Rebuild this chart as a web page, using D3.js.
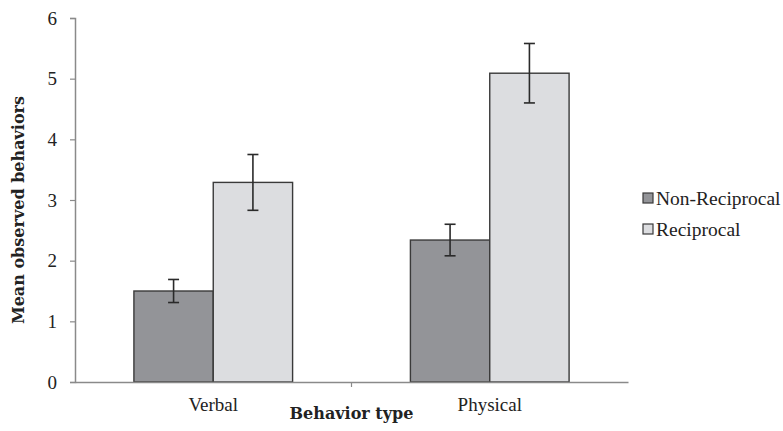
<!DOCTYPE html>
<html>
<head>
<meta charset="utf-8">
<script src="https://cdn.jsdelivr.net/npm/d3@7"></script>
<style>
  html, body { margin: 0; padding: 0; background: #fff; }
  svg { display: block; }
</style>
</head>
<body>
<svg id="chart" width="783" height="431"></svg>
<script>
// Behaviour categories and the two reciprocity conditions
const categories = ["Verbal", "Physical"];
const seriesNames = ["Non-Reciprocal", "Reciprocal"];
const nonReciprocalMeans = [1.50, 2.34];
const reciprocalMeans = [3.29, 5.09];
const nonReciprocalErr = [0.19, 0.26];
const reciprocalErr = [0.46, 0.49];
const yTicks = [0, 1, 2, 3, 4, 5, 6];

const colors = { "Non-Reciprocal": "#939498", "Reciprocal": "#dcdde0" };

const rows = [];
categories.forEach((c, i) => {
  rows.push({ cat: c, series: "Non-Reciprocal", value: nonReciprocalMeans[i], err: nonReciprocalErr[i] });
  rows.push({ cat: c, series: "Reciprocal", value: reciprocalMeans[i], err: reciprocalErr[i] });
});

const svg = d3.select("#chart");
const plot = { left: 75, right: 628, top: 18, bottom: 382 };

const x = d3.scaleBand().domain(categories).range([plot.left, plot.right]).paddingInner(0).paddingOuter(0);
const inner = d3.scaleBand().domain(seriesNames).range([0, x.bandwidth()]).paddingInner(0).paddingOuter(0.7425);
const y = d3.scaleLinear().domain([0, 6]).range([plot.bottom, plot.top]);

const serif = "'Liberation Serif', 'Times New Roman', serif";

// Bars
svg.append("g").selectAll("rect").data(rows).join("rect")
  .attr("x", d => x(d.cat) + inner(d.series))
  .attr("y", d => y(d.value))
  .attr("width", inner.bandwidth())
  .attr("height", d => y(0) - y(d.value))
  .attr("fill", d => colors[d.series])
  .attr("stroke", "#3a3a3a")
  .attr("stroke-width", 1.4);

// Error bars
const eb = svg.append("g").attr("stroke", "#2a2a2a").attr("stroke-width", 1.6);
rows.forEach(d => {
  const cx = x(d.cat) + inner(d.series) + inner.bandwidth() / 2;
  const y1 = y(d.value + d.err), y2 = y(d.value - d.err);
  eb.append("line").attr("x1", cx).attr("x2", cx).attr("y1", y1).attr("y2", y2);
  eb.append("line").attr("x1", cx - 5.5).attr("x2", cx + 5.5).attr("y1", y1).attr("y2", y1);
  eb.append("line").attr("x1", cx - 5.5).attr("x2", cx + 5.5).attr("y1", y2).attr("y2", y2);
});

// Y axis
const yAxis = svg.append("g").attr("transform", `translate(${plot.left},0)`)
  .call(d3.axisLeft(y).tickValues(yTicks).tickSize(5).tickPadding(13).tickFormat(d3.format("d")));
yAxis.select(".domain").attr("stroke", "#8a8a8a").attr("stroke-width", 1.5);
yAxis.selectAll(".tick line").attr("stroke", "#8a8a8a").attr("stroke-width", 1.2);
yAxis.selectAll(".tick text").attr("font-family", serif).attr("font-size", 19).attr("fill", "#222");

// X axis
const xAxis = svg.append("g").attr("transform", `translate(0,${plot.bottom})`)
  .call(d3.axisBottom(x).tickSize(0).tickPadding(16));
xAxis.select(".domain").attr("stroke", "#8a8a8a").attr("stroke-width", 1.5);
xAxis.selectAll(".tick text").attr("font-family", serif).attr("font-size", 19).attr("fill", "#222");
// Category separator tick
svg.append("line")
  .attr("x1", x("Physical")).attr("x2", x("Physical"))
  .attr("y1", plot.bottom).attr("y2", plot.bottom + 5)
  .attr("stroke", "#8a8a8a").attr("stroke-width", 1.2);

// Axis titles
const titleFont = "'DejaVu Serif', serif";
svg.append("text")
  .attr("x", (plot.left + plot.right) / 2).attr("y", 419)
  .attr("text-anchor", "middle")
  .attr("font-family", titleFont).attr("font-weight", "bold").attr("font-size", 16)
  .attr("fill", "#222").text("Behavior type");
svg.append("text")
  .attr("transform", "translate(24,210) rotate(-90)")
  .attr("text-anchor", "middle")
  .attr("font-family", titleFont).attr("font-weight", "bold").attr("font-size", 16)
  .attr("fill", "#222").text("Mean observed behaviors");

// Legend
const legend = svg.append("g");
seriesNames.forEach((s, i) => {
  const ly = 198 + i * 31;
  legend.append("rect").attr("x", 643).attr("y", ly - 5).attr("width", 10).attr("height", 10)
    .attr("fill", colors[s]).attr("stroke", "#3a3a3a").attr("stroke-width", 1.2);
  legend.append("text").attr("x", 656).attr("y", ly + 7)
    .attr("font-family", serif).attr("font-size", 19.5).attr("fill", "#222").text(s);
});
</script>
</body>
</html>
